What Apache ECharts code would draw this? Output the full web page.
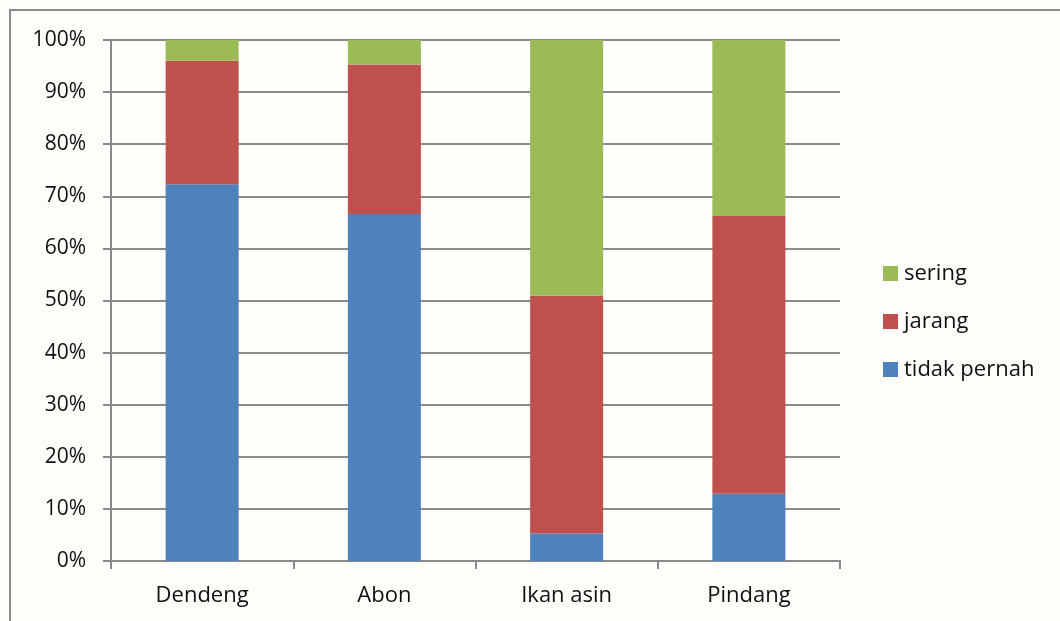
<!DOCTYPE html>
<html>
<head>
<meta charset="utf-8">
<script src="https://cdn.jsdelivr.net/npm/echarts@6/dist/echarts.min.js"></script>
<style>
  html, body { margin: 0; padding: 0; background: #fdfdf9; }
  #chart { width: 1060px; height: 621px; }
</style>
</head>
<body>
<div id="chart"></div>
<script>
// Product categories on the x axis
const categories = ['Dendeng', 'Abon', 'Ikan asin', 'Pindang'];

// Share of respondents (%) per consumption frequency, stacked to 100%
const tidakPernah = [72.3, 66.6, 5.3, 12.9];
const jarang = [23.7, 28.7, 45.6, 53.3];
const sering = [4.0, 4.7, 49.1, 33.8];

// Legend order as listed beside the plot
const legendOrder = ['sering', 'jarang', 'tidak pernah'];

const FONT = '"Open Sans", "Noto Sans", sans-serif';
const GRID_GRAY = '#8a8a8a';

const chart = echarts.init(document.getElementById('chart'), null, { renderer: 'canvas' });

function barSeries(name, data, color) {
  return {
    name: name,
    type: 'bar',
    stack: 'total',
    data: data,
    barWidth: 73,
    itemStyle: { color: color },
    emphasis: { disabled: true }
  };
}

chart.setOption({
  backgroundColor: '#fdfdf9',
  animation: false,
  graphic: [{
    type: 'rect',
    shape: { x: 10, y: 10, width: 1100, height: 700 },
    style: { fill: 'none', stroke: '#8c8c8c', lineWidth: 2 },
    silent: true
  }],
  grid: { left: 111, right: 220, top: 40, bottom: 60 },
  legend: {
    data: legendOrder,
    orient: 'vertical',
    left: 878,
    top: 257,
    itemWidth: 15,
    itemHeight: 15,
    itemGap: 25,
    icon: 'rect',
    textStyle: { fontFamily: FONT, fontSize: 22, lineHeight: 23, color: '#111', padding: [0, 0, 0, 1] }
  },
  xAxis: {
    type: 'category',
    data: categories,
    axisLine: { lineStyle: { color: GRID_GRAY, width: 2 } },
    axisTick: { show: true, length: 8, lineStyle: { color: GRID_GRAY, width: 2 } },
    axisLabel: {
      fontFamily: FONT, fontSize: 22, color: '#111', margin: 24
    },
    splitLine: { show: false }
  },
  yAxis: {
    type: 'value',
    min: 0,
    max: 100,
    interval: 10,
    axisLine: { show: true, lineStyle: { color: GRID_GRAY, width: 2 } },
    axisTick: { show: true, length: 8, lineStyle: { color: GRID_GRAY, width: 2 } },
    axisLabel: {
      fontFamily: FONT, fontSize: 21, color: '#111', margin: 25,
      formatter: v => v + '%'
    },
    splitLine: { show: true, lineStyle: { color: GRID_GRAY, width: 2 } }
  },
  series: [
    barSeries('tidak pernah', tidakPernah, '#4f81bd'),
    barSeries('jarang', jarang, '#c0504d'),
    barSeries('sering', sering, '#9bbb59')
  ]
});
</script>
</body>
</html>
